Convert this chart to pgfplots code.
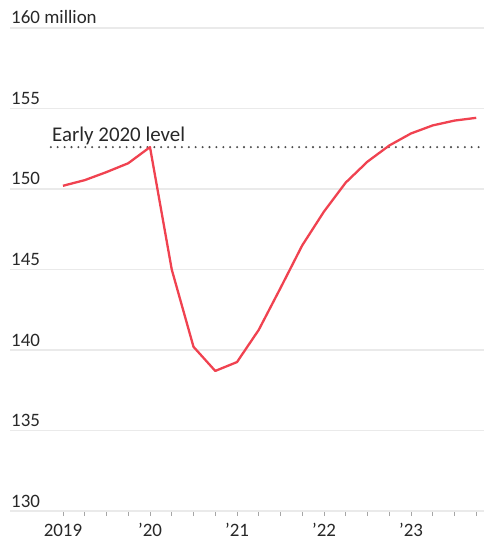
\documentclass[border=0pt]{standalone}
\usepackage{pgfplots}
\pgfplotsset{compat=1.18}
\usepackage{fontspec}
\setmainfont{Carlito}
\definecolor{linered}{RGB}{240,66,80}
\definecolor{gridgray}{RGB}{234,234,234}
\definecolor{txt}{RGB}{40,40,40}
\begin{document}
\begin{tikzpicture}
\begin{axis}[
  at={(0,0)}, anchor=south west,
  scale only axis, width=474bp, height=483bp,
  xmin=2018.391, xmax=2023.839,
  ymin=130, ymax=160,
  axis lines*=left,
  y axis line style={draw=none},
  x axis line style={draw=gridgray, line width=1.5bp},
  ytick={130,135,140,145,150,155,160},
  yticklabels={130,135,140,145,150,155,160 million},
  ytick style={draw=none},
  ymajorgrids, grid style={draw=gridgray, line width=1.5bp},
  yticklabel style={anchor=base west, inner sep=0pt, xshift=6bp, yshift=4bp, font=\fontsize{19}{19}\selectfont, text=txt},
  xtick={2019,2020,2021,2022,2023},
  xticklabels={2019,’20,’21,’22,’23},
  minor xtick={2019.25,2019.5,2019.75,2020.25,2020.5,2020.75,2021.25,2021.5,2021.75,2022.25,2022.5,2022.75,2023.25,2023.5,2023.75},
  xtick style={draw=gray!70, line width=0.9bp},
  tick align=outside, major tick length=5bp, minor tick length=5bp,
  xticklabel style={anchor=base, inner sep=0pt, yshift=-20bp, font=\fontsize{19}{19}\selectfont, text=txt},
  /pgf/number format/assume math mode=true,
  clip=false,
]
\addplot[draw=black!70, line width=2.3bp, line cap=round, dash pattern=on 0pt off 6.9bp] coordinates {(2018.86,152.6) (2023.839,152.6)};
\addplot[draw=linered, line width=2.3bp, line join=round] coordinates {
(2019.00,150.2) (2019.25,150.55) (2019.50,151.05) (2019.75,151.6)
(2020.00,152.6) (2020.25,145.0) (2020.50,140.2) (2020.75,138.7)
(2021.00,139.25) (2021.25,141.25) (2021.50,143.85) (2021.75,146.5)
(2022.00,148.6) (2022.25,150.4) (2022.50,151.7) (2022.75,152.7)
(2023.00,153.45) (2023.25,153.95) (2023.50,154.25) (2023.75,154.42)
};
\node[anchor=base west, inner sep=0pt, font=\fontsize{21}{21}\selectfont, text=txt] at (axis cs:2018.874,152.6) [yshift=6bp] {Early 2020 level};
\end{axis}
\pgfresetboundingbox
\path[use as bounding box] (-10bp,-29bp) rectangle (474bp,511bp);
\end{tikzpicture}
\end{document}
